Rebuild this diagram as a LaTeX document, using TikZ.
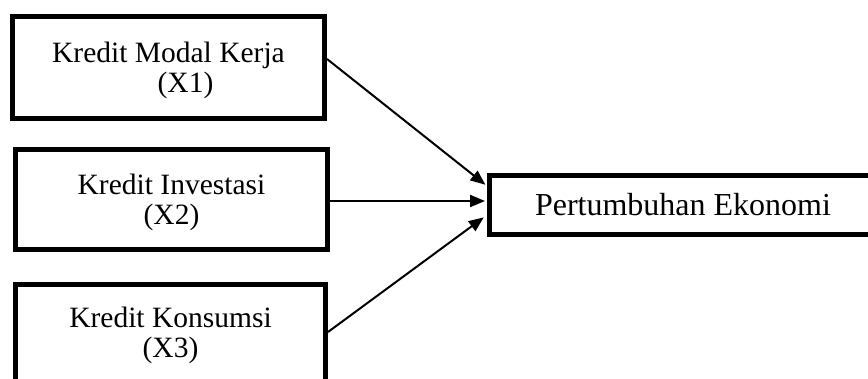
\documentclass[tikz,border=0pt]{standalone}
\usepackage{fontspec}
\setmainfont{Liberation Serif}
\usetikzlibrary{arrows.meta}

\tikzset{
  kotak/.style={draw, rectangle, line width=5pt, inner sep=0pt, align=center,
    font=\fontsize{29.5}{30}\selectfont},
  panah/.style={line width=2pt, -{Triangle[length=15pt,width=12pt]}}
}

\begin{document}
\begin{tikzpicture}[x=1pt,y=-1pt]
            \useasboundingbox (0,0) rectangle (868,379);
            \clip (0,0) rectangle (868,379);

            % variabel bebas
            \node[kotak, minimum width=312pt, minimum height=102pt] (km) at (168.5,67.5)
              {\rule{0pt}{27pt}Kredit Modal Kerja\\\hspace*{34pt}(X1)};
            \node[kotak, minimum width=312pt, minimum height=100pt] (ki) at (171.5,199.5)
              {\rule{0pt}{27pt}Kredit Investasi\\(X2)};
            \node[kotak, minimum width=310pt, minimum height=102.5pt] (kk) at (170.5,335.75)
              {Kredit Konsumsi\\(X3)};

            % variabel terikat
            \node[kotak, minimum width=387pt, minimum height=59pt, font=\fontsize{32}{34}\selectfont] (pe) at (683,205)
              {Pertumbuhan Ekonomi};

            \draw[panah, shorten >=2pt] ([yshift=8.5pt]km.east) -- ([yshift=19pt]pe.west);
            \draw[panah, shorten >=2pt] ([yshift=-1.5pt]ki.east) -- ([yshift=4pt]pe.west);
            \draw[panah, shorten >=4pt] ([yshift=3.75pt]kk.east) -- ([yshift=-10pt]pe.west);

        \end{tikzpicture}
\end{document}
